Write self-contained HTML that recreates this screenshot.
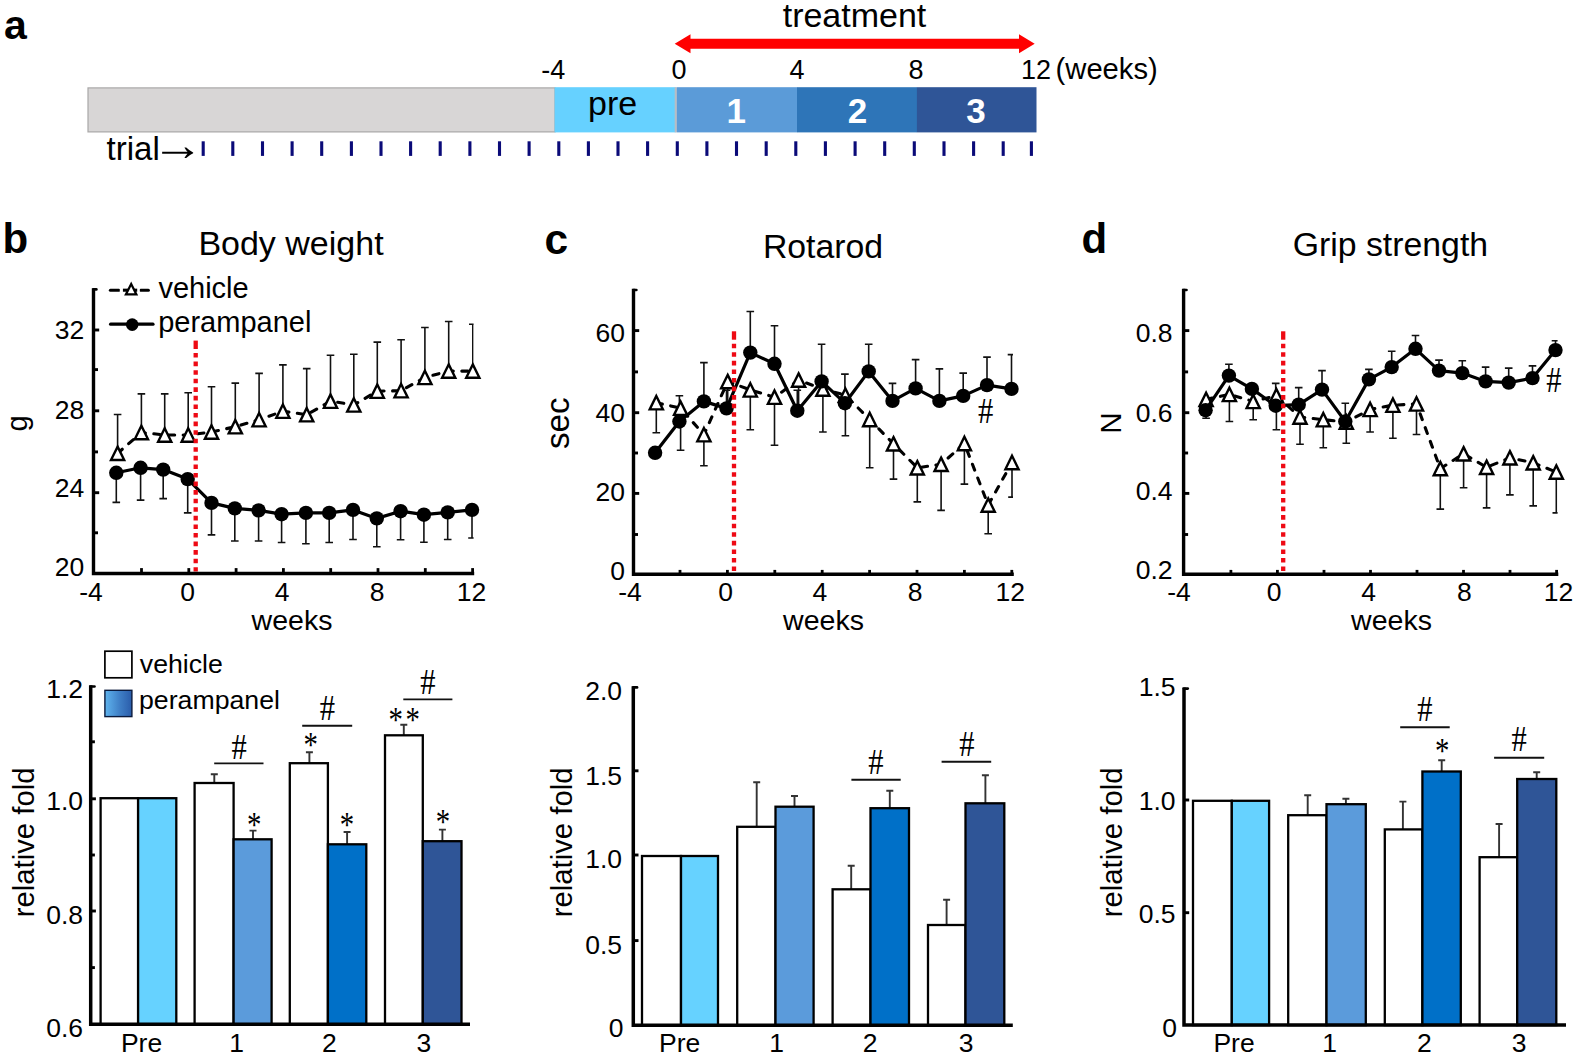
<!DOCTYPE html>
<html lang="en">
<head>
<meta charset="utf-8">
<title>Figure: perampanel treatment - body weight, rotarod, grip strength</title>
<style>
html,body{margin:0;padding:0;background:#fff;}
body{width:1575px;height:1058px;overflow:hidden;}
svg{display:block;}
.ss{font-family:"Liberation Sans", sans-serif;}
.sf{font-family:"Liberation Serif", serif;}
</style>
</head>
<body>
<svg width="1575" height="1058" viewBox="0 0 1575 1058">
<defs>
<linearGradient id="lg" x1="0" y1="0" x2="1" y2="0">
<stop offset="0" stop-color="#5fb4ee"/><stop offset="0.55" stop-color="#3f7fc6"/><stop offset="1" stop-color="#2a5caa"/>
</linearGradient>
<clipPath id="cb"><rect x="90" y="280" width="383.6" height="300"/></clipPath>
<clipPath id="cc"><rect x="630" y="280" width="383" height="300"/></clipPath>
<clipPath id="cd"><rect x="1180" y="280" width="377.6" height="300"/></clipPath>
</defs>
<rect width="1575" height="1058" fill="#fff"/>
<text class="ss" x="4.0" y="38.9" font-size="41" text-anchor="start" font-weight="bold">a</text>
<text class="ss" x="854.5" y="27.0" font-size="34" text-anchor="middle">treatment</text>
<path d="M674.7 43.8 L690.5 34.3 L690.5 38.8 L1019 38.8 L1019 34.3 L1034.7 43.8 L1019 53.3 L1019 48.8 L690.5 48.8 L690.5 53.3 Z" fill="#ff0000"/>
<text class="ss" x="553.3" y="78.8" font-size="27" text-anchor="middle">-4</text>
<text class="ss" x="679.0" y="78.8" font-size="27" text-anchor="middle">0</text>
<text class="ss" x="797.0" y="78.8" font-size="27" text-anchor="middle">4</text>
<text class="ss" x="916.0" y="78.8" font-size="27" text-anchor="middle">8</text>
<text class="ss" x="1021.0" y="78.8" font-size="27" text-anchor="start">12</text>
<text class="ss" x="1055.6" y="79.0" font-size="29.2" text-anchor="start">(weeks)</text>
<rect x="88" y="87.9" width="467" height="44" fill="#d8d6d6" stroke="#a9a7a7" stroke-width="1.2"/>
<rect x="554.6" y="87.2" width="121" height="45.2" fill="#66d1ff"/>
<rect x="674.7" y="87.2" width="2.2" height="45.2" fill="#b9bcc4"/>
<rect x="676.8" y="87.2" width="120.4" height="45.2" fill="#5b9bd8"/>
<rect x="797" y="87.2" width="120" height="45.2" fill="#2e75b8"/>
<rect x="916.9" y="87.2" width="119.6" height="45.2" fill="#2f5597"/>
<text class="ss" x="612.6" y="114.6" font-size="34" text-anchor="middle">pre</text>
<text class="ss" x="736.3" y="122.6" font-size="35" text-anchor="middle" font-weight="bold" fill="#fff">1</text>
<text class="ss" x="857.6" y="122.6" font-size="35" text-anchor="middle" font-weight="bold" fill="#fff">2</text>
<text class="ss" x="975.9" y="122.6" font-size="35" text-anchor="middle" font-weight="bold" fill="#fff">3</text>
<text class="ss" x="106.6" y="160.1" font-size="33" text-anchor="start">trial</text>
<text class="sf" transform="translate(151.4 160.3) scale(1.64 1.4)" font-size="32" text-anchor="start">→</text>
<line x1="203.2" y1="141.3" x2="203.2" y2="155.9" stroke="#0a0a78" stroke-width="3.1"/>
<line x1="232.8" y1="141.3" x2="232.8" y2="155.9" stroke="#0a0a78" stroke-width="3.1"/>
<line x1="262.5" y1="141.3" x2="262.5" y2="155.9" stroke="#0a0a78" stroke-width="3.1"/>
<line x1="292.1" y1="141.3" x2="292.1" y2="155.9" stroke="#0a0a78" stroke-width="3.1"/>
<line x1="321.7" y1="141.3" x2="321.7" y2="155.9" stroke="#0a0a78" stroke-width="3.1"/>
<line x1="351.4" y1="141.3" x2="351.4" y2="155.9" stroke="#0a0a78" stroke-width="3.1"/>
<line x1="381.0" y1="141.3" x2="381.0" y2="155.9" stroke="#0a0a78" stroke-width="3.1"/>
<line x1="410.6" y1="141.3" x2="410.6" y2="155.9" stroke="#0a0a78" stroke-width="3.1"/>
<line x1="440.2" y1="141.3" x2="440.2" y2="155.9" stroke="#0a0a78" stroke-width="3.1"/>
<line x1="469.9" y1="141.3" x2="469.9" y2="155.9" stroke="#0a0a78" stroke-width="3.1"/>
<line x1="499.5" y1="141.3" x2="499.5" y2="155.9" stroke="#0a0a78" stroke-width="3.1"/>
<line x1="529.1" y1="141.3" x2="529.1" y2="155.9" stroke="#0a0a78" stroke-width="3.1"/>
<line x1="558.8" y1="141.3" x2="558.8" y2="155.9" stroke="#0a0a78" stroke-width="3.1"/>
<line x1="588.4" y1="141.3" x2="588.4" y2="155.9" stroke="#0a0a78" stroke-width="3.1"/>
<line x1="618.0" y1="141.3" x2="618.0" y2="155.9" stroke="#0a0a78" stroke-width="3.1"/>
<line x1="647.6" y1="141.3" x2="647.6" y2="155.9" stroke="#0a0a78" stroke-width="3.1"/>
<line x1="677.3" y1="141.3" x2="677.3" y2="155.9" stroke="#0a0a78" stroke-width="3.1"/>
<line x1="706.9" y1="141.3" x2="706.9" y2="155.9" stroke="#0a0a78" stroke-width="3.1"/>
<line x1="736.5" y1="141.3" x2="736.5" y2="155.9" stroke="#0a0a78" stroke-width="3.1"/>
<line x1="766.2" y1="141.3" x2="766.2" y2="155.9" stroke="#0a0a78" stroke-width="3.1"/>
<line x1="795.8" y1="141.3" x2="795.8" y2="155.9" stroke="#0a0a78" stroke-width="3.1"/>
<line x1="825.4" y1="141.3" x2="825.4" y2="155.9" stroke="#0a0a78" stroke-width="3.1"/>
<line x1="855.1" y1="141.3" x2="855.1" y2="155.9" stroke="#0a0a78" stroke-width="3.1"/>
<line x1="884.7" y1="141.3" x2="884.7" y2="155.9" stroke="#0a0a78" stroke-width="3.1"/>
<line x1="914.3" y1="141.3" x2="914.3" y2="155.9" stroke="#0a0a78" stroke-width="3.1"/>
<line x1="944.0" y1="141.3" x2="944.0" y2="155.9" stroke="#0a0a78" stroke-width="3.1"/>
<line x1="973.6" y1="141.3" x2="973.6" y2="155.9" stroke="#0a0a78" stroke-width="3.1"/>
<line x1="1003.2" y1="141.3" x2="1003.2" y2="155.9" stroke="#0a0a78" stroke-width="3.1"/>
<line x1="1031.4" y1="141.3" x2="1031.4" y2="155.9" stroke="#0a0a78" stroke-width="3.1"/>
<text class="ss" x="2.6" y="252.5" font-size="42" text-anchor="start" font-weight="bold">b</text>
<text class="ss" x="291.0" y="255.2" font-size="34" text-anchor="middle">Body weight</text>
<g clip-path="url(#cb)">
<path d="M117.6 453.3 V414.5 M113.8 414.5 H121.4" fill="none" stroke="#111" stroke-width="1.6"/>
<path d="M141.4 432.5 V393.9 M137.6 393.9 H145.2" fill="none" stroke="#111" stroke-width="1.6"/>
<path d="M164.7 435.0 V393.9 M160.9 393.9 H168.5" fill="none" stroke="#111" stroke-width="1.6"/>
<path d="M188.2 435.0 V392.7 M184.4 392.7 H192.0" fill="none" stroke="#111" stroke-width="1.6"/>
<path d="M211.5 432.0 V386.7 M207.7 386.7 H215.3" fill="none" stroke="#111" stroke-width="1.6"/>
<path d="M235.3 426.7 V383.1 M231.5 383.1 H239.1" fill="none" stroke="#111" stroke-width="1.6"/>
<path d="M259.1 419.7 V373.4 M255.3 373.4 H262.9" fill="none" stroke="#111" stroke-width="1.6"/>
<path d="M282.9 411.2 V364.9 M279.1 364.9 H286.7" fill="none" stroke="#111" stroke-width="1.6"/>
<path d="M306.7 414.7 V368.6 M302.9 368.6 H310.5" fill="none" stroke="#111" stroke-width="1.6"/>
<path d="M330.5 401.2 V355.3 M326.7 355.3 H334.3" fill="none" stroke="#111" stroke-width="1.6"/>
<path d="M353.8 404.9 V354.3 M350.0 354.3 H357.6" fill="none" stroke="#111" stroke-width="1.6"/>
<path d="M377.3 391.2 V342.1 M373.5 342.1 H381.1" fill="none" stroke="#111" stroke-width="1.6"/>
<path d="M401.1 390.7 V339.8 M397.3 339.8 H404.9" fill="none" stroke="#111" stroke-width="1.6"/>
<path d="M424.9 377.4 V327.5 M421.1 327.5 H428.7" fill="none" stroke="#111" stroke-width="1.6"/>
<path d="M448.7 371.1 V321.5 M444.9 321.5 H452.5" fill="none" stroke="#111" stroke-width="1.6"/>
<path d="M472.8 371.1 V324.3 M469.0 324.3 H476.6" fill="none" stroke="#111" stroke-width="1.6"/>
<path d="M116.3 472.8 V502.4 M112.5 502.4 H120.1" fill="none" stroke="#111" stroke-width="1.6"/>
<path d="M140.6 467.8 V500.1 M136.8 500.1 H144.4" fill="none" stroke="#111" stroke-width="1.6"/>
<path d="M163.2 469.6 V498.6 M159.4 498.6 H167.0" fill="none" stroke="#111" stroke-width="1.6"/>
<path d="M187.7 479.1 V512.9 M183.9 512.9 H191.5" fill="none" stroke="#111" stroke-width="1.6"/>
<path d="M211.5 502.9 V534.9 M207.7 534.9 H215.3" fill="none" stroke="#111" stroke-width="1.6"/>
<path d="M234.8 508.4 V541.0 M231.0 541.0 H238.6" fill="none" stroke="#111" stroke-width="1.6"/>
<path d="M258.6 510.4 V541.0 M254.8 541.0 H262.4" fill="none" stroke="#111" stroke-width="1.6"/>
<path d="M281.6 514.2 V542.5 M277.8 542.5 H285.4" fill="none" stroke="#111" stroke-width="1.6"/>
<path d="M305.9 512.9 V543.7 M302.1 543.7 H309.7" fill="none" stroke="#111" stroke-width="1.6"/>
<path d="M329.2 512.9 V542.5 M325.4 542.5 H333.0" fill="none" stroke="#111" stroke-width="1.6"/>
<path d="M353.0 509.9 V539.5 M349.2 539.5 H356.8" fill="none" stroke="#111" stroke-width="1.6"/>
<path d="M376.8 518.4 V546.7 M373.0 546.7 H380.6" fill="none" stroke="#111" stroke-width="1.6"/>
<path d="M400.6 511.2 V539.7 M396.8 539.7 H404.4" fill="none" stroke="#111" stroke-width="1.6"/>
<path d="M423.9 514.7 V542.2 M420.1 542.2 H427.7" fill="none" stroke="#111" stroke-width="1.6"/>
<path d="M447.7 512.4 V539.5 M443.9 539.5 H451.5" fill="none" stroke="#111" stroke-width="1.6"/>
<path d="M472.0 509.9 V538.0 M468.2 538.0 H475.8" fill="none" stroke="#111" stroke-width="1.6"/>
</g>
<polyline points="117.6,453.3 141.4,432.5 164.7,435.0 188.2,435.0 211.5,432.0 235.3,426.7 259.1,419.7 282.9,411.2 306.7,414.7 330.5,401.2 353.8,404.9 377.3,391.2 401.1,390.7 424.9,377.4 448.7,371.1 472.8,371.1" fill="none" stroke="#000" stroke-width="3.1" stroke-dasharray="6.2 8.5" stroke-linecap="round" stroke-linejoin="round"/>
<path d="M117.6 446.6 L124.2 460.0 L111.0 460.0 Z" fill="#fff" stroke="#000" stroke-width="2.4" stroke-linejoin="miter"/>
<path d="M141.4 425.8 L148.0 439.2 L134.8 439.2 Z" fill="#fff" stroke="#000" stroke-width="2.4" stroke-linejoin="miter"/>
<path d="M164.7 428.3 L171.3 441.7 L158.1 441.7 Z" fill="#fff" stroke="#000" stroke-width="2.4" stroke-linejoin="miter"/>
<path d="M188.2 428.3 L194.8 441.7 L181.6 441.7 Z" fill="#fff" stroke="#000" stroke-width="2.4" stroke-linejoin="miter"/>
<path d="M211.5 425.3 L218.1 438.7 L204.9 438.7 Z" fill="#fff" stroke="#000" stroke-width="2.4" stroke-linejoin="miter"/>
<path d="M235.3 420.0 L241.9 433.4 L228.7 433.4 Z" fill="#fff" stroke="#000" stroke-width="2.4" stroke-linejoin="miter"/>
<path d="M259.1 413.0 L265.7 426.4 L252.5 426.4 Z" fill="#fff" stroke="#000" stroke-width="2.4" stroke-linejoin="miter"/>
<path d="M282.9 404.5 L289.5 417.9 L276.3 417.9 Z" fill="#fff" stroke="#000" stroke-width="2.4" stroke-linejoin="miter"/>
<path d="M306.7 408.0 L313.3 421.4 L300.1 421.4 Z" fill="#fff" stroke="#000" stroke-width="2.4" stroke-linejoin="miter"/>
<path d="M330.5 394.5 L337.1 407.9 L323.9 407.9 Z" fill="#fff" stroke="#000" stroke-width="2.4" stroke-linejoin="miter"/>
<path d="M353.8 398.2 L360.4 411.6 L347.2 411.6 Z" fill="#fff" stroke="#000" stroke-width="2.4" stroke-linejoin="miter"/>
<path d="M377.3 384.5 L383.9 397.9 L370.7 397.9 Z" fill="#fff" stroke="#000" stroke-width="2.4" stroke-linejoin="miter"/>
<path d="M401.1 384.0 L407.7 397.4 L394.5 397.4 Z" fill="#fff" stroke="#000" stroke-width="2.4" stroke-linejoin="miter"/>
<path d="M424.9 370.7 L431.5 384.1 L418.3 384.1 Z" fill="#fff" stroke="#000" stroke-width="2.4" stroke-linejoin="miter"/>
<path d="M448.7 364.4 L455.3 377.8 L442.1 377.8 Z" fill="#fff" stroke="#000" stroke-width="2.4" stroke-linejoin="miter"/>
<path d="M472.8 364.4 L479.4 377.8 L466.2 377.8 Z" fill="#fff" stroke="#000" stroke-width="2.4" stroke-linejoin="miter"/>
<polyline points="116.3,472.8 140.6,467.8 163.2,469.6 187.7,479.1 211.5,502.9 234.8,508.4 258.6,510.4 281.6,514.2 305.9,512.9 329.2,512.9 353.0,509.9 376.8,518.4 400.6,511.2 423.9,514.7 447.7,512.4 472.0,509.9" fill="none" stroke="#000" stroke-width="3.2" stroke-linejoin="round"/>
<circle cx="116.3" cy="472.8" r="7.2" fill="#000"/>
<circle cx="140.6" cy="467.8" r="7.2" fill="#000"/>
<circle cx="163.2" cy="469.6" r="7.2" fill="#000"/>
<circle cx="187.7" cy="479.1" r="7.2" fill="#000"/>
<circle cx="211.5" cy="502.9" r="7.2" fill="#000"/>
<circle cx="234.8" cy="508.4" r="7.2" fill="#000"/>
<circle cx="258.6" cy="510.4" r="7.2" fill="#000"/>
<circle cx="281.6" cy="514.2" r="7.2" fill="#000"/>
<circle cx="305.9" cy="512.9" r="7.2" fill="#000"/>
<circle cx="329.2" cy="512.9" r="7.2" fill="#000"/>
<circle cx="353.0" cy="509.9" r="7.2" fill="#000"/>
<circle cx="376.8" cy="518.4" r="7.2" fill="#000"/>
<circle cx="400.6" cy="511.2" r="7.2" fill="#000"/>
<circle cx="423.9" cy="514.7" r="7.2" fill="#000"/>
<circle cx="447.7" cy="512.4" r="7.2" fill="#000"/>
<circle cx="472.0" cy="509.9" r="7.2" fill="#000"/>
<line x1="195.7" y1="340.6" x2="195.7" y2="349.0" stroke="#ee0a14" stroke-width="4.3"/>
<line x1="195.7" y1="353.0" x2="195.7" y2="571.6" stroke="#ee0a14" stroke-width="4.3" stroke-dasharray="4.6 3.97"/>
<path d="M93.5 288.2 V573.5 H474.2" fill="none" stroke="#000" stroke-width="3.4" stroke-linejoin="miter"/>
<path d="M93.5 289.4 H96.4" fill="none" stroke="#000" stroke-width="2.6" stroke-linecap="round"/>
<line x1="93.5" y1="532.8" x2="98.0" y2="532.8" stroke="#000" stroke-width="2.9"/>
<line x1="93.5" y1="492.7" x2="99.2" y2="492.7" stroke="#000" stroke-width="2.9"/>
<line x1="93.5" y1="451.9" x2="98.0" y2="451.9" stroke="#000" stroke-width="2.9"/>
<line x1="93.5" y1="410.8" x2="99.2" y2="410.8" stroke="#000" stroke-width="2.9"/>
<line x1="93.5" y1="369.6" x2="98.0" y2="369.6" stroke="#000" stroke-width="2.9"/>
<line x1="93.5" y1="330.0" x2="99.2" y2="330.0" stroke="#000" stroke-width="2.9"/>
<line x1="141.5" y1="573.5" x2="141.5" y2="568.1" stroke="#000" stroke-width="2.8"/>
<line x1="188.8" y1="573.5" x2="188.8" y2="568.1" stroke="#000" stroke-width="2.8"/>
<line x1="236.1" y1="573.5" x2="236.1" y2="568.1" stroke="#000" stroke-width="2.8"/>
<line x1="283.4" y1="573.5" x2="283.4" y2="568.1" stroke="#000" stroke-width="2.8"/>
<line x1="330.7" y1="573.5" x2="330.7" y2="568.1" stroke="#000" stroke-width="2.8"/>
<line x1="378.0" y1="573.5" x2="378.0" y2="568.1" stroke="#000" stroke-width="2.8"/>
<line x1="425.3" y1="573.5" x2="425.3" y2="568.1" stroke="#000" stroke-width="2.8"/>
<line x1="472.6" y1="573.5" x2="472.6" y2="568.1" stroke="#000" stroke-width="2.8"/>
<text class="ss" x="84.2" y="339.4" font-size="26.5" text-anchor="end">32</text>
<text class="ss" x="84.2" y="418.6" font-size="26.5" text-anchor="end">28</text>
<text class="ss" x="84.2" y="497.1" font-size="26.5" text-anchor="end">24</text>
<text class="ss" x="84.2" y="575.9" font-size="26.5" text-anchor="end">20</text>
<text class="ss" x="27.0" y="423.4" font-size="29" text-anchor="middle" transform="rotate(-90 27.0 423.4)">g</text>
<text class="ss" x="91.0" y="601.4" font-size="26.5" text-anchor="middle">-4</text>
<text class="ss" x="187.5" y="601.4" font-size="26.5" text-anchor="middle">0</text>
<text class="ss" x="282.0" y="601.4" font-size="26.5" text-anchor="middle">4</text>
<text class="ss" x="377.0" y="601.4" font-size="26.5" text-anchor="middle">8</text>
<text class="ss" x="471.4" y="601.4" font-size="26.5" text-anchor="middle">12</text>
<text class="ss" x="292.0" y="630.2" font-size="28.5" text-anchor="middle">weeks</text>
<line x1="110.4" y1="290.2" x2="119.0" y2="290.2" stroke="#000" stroke-width="3.1" stroke-linecap="round"/>
<line x1="122.6" y1="290.2" x2="139.0" y2="290.2" stroke="#000" stroke-width="3.1"/>
<line x1="140.6" y1="290.2" x2="148.4" y2="290.2" stroke="#000" stroke-width="3.1" stroke-linecap="round"/>
<rect x="119.8" y="285" width="3" height="10" fill="#fff"/><rect x="137.2" y="285" width="2.6" height="10" fill="#fff"/>
<path d="M131.2 283.9 L136.4 294.4 L125.9 294.4 Z" fill="#fff" stroke="#000" stroke-width="2.2" stroke-linejoin="miter"/>
<line x1="110.6" y1="324.2" x2="153.0" y2="324.2" stroke="#000" stroke-width="3.2" stroke-linecap="round"/>
<circle cx="132.2" cy="324.6" r="6.3" fill="#000"/>
<text class="ss" x="158.4" y="298.1" font-size="29" text-anchor="start">vehicle</text>
<text class="ss" x="158.2" y="332.4" font-size="29" text-anchor="start">perampanel</text>
<text class="ss" x="544.6" y="253.8" font-size="42.5" text-anchor="start" font-weight="bold">c</text>
<text class="ss" x="823.0" y="258.0" font-size="33.8" text-anchor="middle">Rotarod</text>
<g clip-path="url(#cc)">
<path d="M656.3 402.7 V432.7 M652.5 432.7 H660.1" fill="none" stroke="#111" stroke-width="1.6"/>
<path d="M680.6 408.2 V450.3 M676.8 450.3 H684.4" fill="none" stroke="#111" stroke-width="1.6"/>
<path d="M703.9 434.7 V465.8 M700.1 465.8 H707.7" fill="none" stroke="#111" stroke-width="1.6"/>
<path d="M727.7 381.6 V410.2 M723.9 410.2 H731.5" fill="none" stroke="#111" stroke-width="1.6"/>
<path d="M750.3 389.9 V429.7 M746.5 429.7 H754.1" fill="none" stroke="#111" stroke-width="1.6"/>
<path d="M774.5 397.2 V445.3 M770.7 445.3 H778.3" fill="none" stroke="#111" stroke-width="1.6"/>
<path d="M798.6 380.1 V413.9 M794.8 413.9 H802.4" fill="none" stroke="#111" stroke-width="1.6"/>
<path d="M822.9 389.1 V432.0 M819.1 432.0 H826.7" fill="none" stroke="#111" stroke-width="1.6"/>
<path d="M845.4 395.2 V435.7 M841.6 435.7 H849.2" fill="none" stroke="#111" stroke-width="1.6"/>
<path d="M869.7 419.5 V467.8 M865.9 467.8 H873.5" fill="none" stroke="#111" stroke-width="1.6"/>
<path d="M893.5 443.8 V479.1 M889.7 479.1 H897.3" fill="none" stroke="#111" stroke-width="1.6"/>
<path d="M917.3 467.8 V501.9 M913.5 501.9 H921.1" fill="none" stroke="#111" stroke-width="1.6"/>
<path d="M941.1 464.3 V510.4 M937.3 510.4 H944.9" fill="none" stroke="#111" stroke-width="1.6"/>
<path d="M964.4 443.5 V484.1 M960.6 484.1 H968.2" fill="none" stroke="#111" stroke-width="1.6"/>
<path d="M988.2 505.1 V533.7 M984.4 533.7 H992.0" fill="none" stroke="#111" stroke-width="1.6"/>
<path d="M1012.0 462.5 V497.1 M1008.2 497.1 H1015.8" fill="none" stroke="#111" stroke-width="1.6"/>
<path d="M679.4 421.5 V395.7 M675.6 395.7 H683.2" fill="none" stroke="#111" stroke-width="1.6"/>
<path d="M703.9 401.4 V362.6 M700.1 362.6 H707.7" fill="none" stroke="#111" stroke-width="1.6"/>
<path d="M726.5 408.4 V390.2 M722.7 390.2 H730.3" fill="none" stroke="#111" stroke-width="1.6"/>
<path d="M750.3 352.6 V311.5 M746.5 311.5 H754.1" fill="none" stroke="#111" stroke-width="1.6"/>
<path d="M774.5 363.8 V325.8 M770.7 325.8 H778.3" fill="none" stroke="#111" stroke-width="1.6"/>
<path d="M797.3 410.7 V390.2 M793.5 390.2 H801.1" fill="none" stroke="#111" stroke-width="1.6"/>
<path d="M821.6 381.4 V344.3 M817.8 344.3 H825.4" fill="none" stroke="#111" stroke-width="1.6"/>
<path d="M844.9 403.2 V374.1 M841.1 374.1 H848.7" fill="none" stroke="#111" stroke-width="1.6"/>
<path d="M868.7 371.4 V344.3 M864.9 344.3 H872.5" fill="none" stroke="#111" stroke-width="1.6"/>
<path d="M892.5 400.9 V383.4 M888.7 383.4 H896.3" fill="none" stroke="#111" stroke-width="1.6"/>
<path d="M915.6 388.4 V359.6 M911.8 359.6 H919.4" fill="none" stroke="#111" stroke-width="1.6"/>
<path d="M939.4 400.9 V368.9 M935.6 368.9 H943.2" fill="none" stroke="#111" stroke-width="1.6"/>
<path d="M963.2 395.9 V373.1 M959.4 373.1 H967.0" fill="none" stroke="#111" stroke-width="1.6"/>
<path d="M987.0 385.1 V357.1 M983.2 357.1 H990.8" fill="none" stroke="#111" stroke-width="1.6"/>
<path d="M1011.5 388.9 V354.6 M1007.7 354.6 H1015.3" fill="none" stroke="#111" stroke-width="1.6"/>
</g>
<polyline points="656.3,402.7 680.6,408.2 703.9,434.7 727.7,381.6 750.3,389.9 774.5,397.2 798.6,380.1 822.9,389.1 845.4,395.2 869.7,419.5 893.5,443.8 917.3,467.8 941.1,464.3 964.4,443.5 988.2,505.1 1012.0,462.5" fill="none" stroke="#000" stroke-width="3.1" stroke-dasharray="6.2 8.5" stroke-linecap="round" stroke-linejoin="round"/>
<path d="M656.3 396.0 L662.9 409.4 L649.7 409.4 Z" fill="#fff" stroke="#000" stroke-width="2.4" stroke-linejoin="miter"/>
<path d="M680.6 401.5 L687.2 414.9 L674.0 414.9 Z" fill="#fff" stroke="#000" stroke-width="2.4" stroke-linejoin="miter"/>
<path d="M703.9 428.0 L710.5 441.4 L697.3 441.4 Z" fill="#fff" stroke="#000" stroke-width="2.4" stroke-linejoin="miter"/>
<path d="M727.7 374.9 L734.3 388.3 L721.1 388.3 Z" fill="#fff" stroke="#000" stroke-width="2.4" stroke-linejoin="miter"/>
<path d="M750.3 383.2 L756.9 396.6 L743.7 396.6 Z" fill="#fff" stroke="#000" stroke-width="2.4" stroke-linejoin="miter"/>
<path d="M774.5 390.5 L781.1 403.9 L767.9 403.9 Z" fill="#fff" stroke="#000" stroke-width="2.4" stroke-linejoin="miter"/>
<path d="M798.6 373.4 L805.2 386.8 L792.0 386.8 Z" fill="#fff" stroke="#000" stroke-width="2.4" stroke-linejoin="miter"/>
<path d="M822.9 382.4 L829.5 395.8 L816.3 395.8 Z" fill="#fff" stroke="#000" stroke-width="2.4" stroke-linejoin="miter"/>
<path d="M845.4 388.5 L852.0 401.9 L838.8 401.9 Z" fill="#fff" stroke="#000" stroke-width="2.4" stroke-linejoin="miter"/>
<path d="M869.7 412.8 L876.3 426.2 L863.1 426.2 Z" fill="#fff" stroke="#000" stroke-width="2.4" stroke-linejoin="miter"/>
<path d="M893.5 437.1 L900.1 450.5 L886.9 450.5 Z" fill="#fff" stroke="#000" stroke-width="2.4" stroke-linejoin="miter"/>
<path d="M917.3 461.1 L923.9 474.5 L910.7 474.5 Z" fill="#fff" stroke="#000" stroke-width="2.4" stroke-linejoin="miter"/>
<path d="M941.1 457.6 L947.7 471.0 L934.5 471.0 Z" fill="#fff" stroke="#000" stroke-width="2.4" stroke-linejoin="miter"/>
<path d="M964.4 436.8 L971.0 450.2 L957.8 450.2 Z" fill="#fff" stroke="#000" stroke-width="2.4" stroke-linejoin="miter"/>
<path d="M988.2 498.4 L994.8 511.8 L981.6 511.8 Z" fill="#fff" stroke="#000" stroke-width="2.4" stroke-linejoin="miter"/>
<path d="M1012.0 455.8 L1018.6 469.2 L1005.4 469.2 Z" fill="#fff" stroke="#000" stroke-width="2.4" stroke-linejoin="miter"/>
<polyline points="655.1,452.8 679.4,421.5 703.9,401.4 726.5,408.4 750.3,352.6 774.5,363.8 797.3,410.7 821.6,381.4 844.9,403.2 868.7,371.4 892.5,400.9 915.6,388.4 939.4,400.9 963.2,395.9 987.0,385.1 1011.5,388.9" fill="none" stroke="#000" stroke-width="3.2" stroke-linejoin="round"/>
<circle cx="655.1" cy="452.8" r="7.2" fill="#000"/>
<circle cx="679.4" cy="421.5" r="7.2" fill="#000"/>
<circle cx="703.9" cy="401.4" r="7.2" fill="#000"/>
<circle cx="726.5" cy="408.4" r="7.2" fill="#000"/>
<circle cx="750.3" cy="352.6" r="7.2" fill="#000"/>
<circle cx="774.5" cy="363.8" r="7.2" fill="#000"/>
<circle cx="797.3" cy="410.7" r="7.2" fill="#000"/>
<circle cx="821.6" cy="381.4" r="7.2" fill="#000"/>
<circle cx="844.9" cy="403.2" r="7.2" fill="#000"/>
<circle cx="868.7" cy="371.4" r="7.2" fill="#000"/>
<circle cx="892.5" cy="400.9" r="7.2" fill="#000"/>
<circle cx="915.6" cy="388.4" r="7.2" fill="#000"/>
<circle cx="939.4" cy="400.9" r="7.2" fill="#000"/>
<circle cx="963.2" cy="395.9" r="7.2" fill="#000"/>
<circle cx="987.0" cy="385.1" r="7.2" fill="#000"/>
<circle cx="1011.5" cy="388.9" r="7.2" fill="#000"/>
<line x1="734.0" y1="331.3" x2="734.0" y2="339.7" stroke="#ee0a14" stroke-width="4.3"/>
<line x1="734.0" y1="343.7" x2="734.0" y2="572.6" stroke="#ee0a14" stroke-width="4.3" stroke-dasharray="4.6 3.97"/>
<path d="M633.5 288.8 V574.3 H1013.8" fill="none" stroke="#000" stroke-width="3.4" stroke-linejoin="miter"/>
<path d="M633.5 290.0 H636.4" fill="none" stroke="#000" stroke-width="2.6" stroke-linecap="round"/>
<line x1="633.5" y1="534.5" x2="638.0" y2="534.5" stroke="#000" stroke-width="2.9"/>
<line x1="633.5" y1="493.4" x2="639.2" y2="493.4" stroke="#000" stroke-width="2.9"/>
<line x1="633.5" y1="453.0" x2="638.0" y2="453.0" stroke="#000" stroke-width="2.9"/>
<line x1="633.5" y1="412.7" x2="639.2" y2="412.7" stroke="#000" stroke-width="2.9"/>
<line x1="633.5" y1="371.9" x2="638.0" y2="371.9" stroke="#000" stroke-width="2.9"/>
<line x1="633.5" y1="330.6" x2="639.2" y2="330.6" stroke="#000" stroke-width="2.9"/>
<line x1="680.0" y1="574.3" x2="680.0" y2="569.9" stroke="#000" stroke-width="2.8"/>
<line x1="727.4" y1="574.3" x2="727.4" y2="569.9" stroke="#000" stroke-width="2.8"/>
<line x1="774.8" y1="574.3" x2="774.8" y2="569.9" stroke="#000" stroke-width="2.8"/>
<line x1="822.2" y1="574.3" x2="822.2" y2="569.9" stroke="#000" stroke-width="2.8"/>
<line x1="869.6" y1="574.3" x2="869.6" y2="569.9" stroke="#000" stroke-width="2.8"/>
<line x1="917.0" y1="574.3" x2="917.0" y2="569.9" stroke="#000" stroke-width="2.8"/>
<line x1="964.4" y1="574.3" x2="964.4" y2="569.9" stroke="#000" stroke-width="2.8"/>
<line x1="1011.8" y1="574.3" x2="1011.8" y2="569.9" stroke="#000" stroke-width="2.8"/>
<text class="ss" x="625.1" y="342.2" font-size="26.5" text-anchor="end">60</text>
<text class="ss" x="625.1" y="421.6" font-size="26.5" text-anchor="end">40</text>
<text class="ss" x="625.1" y="500.7" font-size="26.5" text-anchor="end">20</text>
<text class="ss" x="625.1" y="580.3" font-size="26.5" text-anchor="end">0</text>
<text class="ss" x="569.2" y="423.2" font-size="33.2" text-anchor="middle" transform="rotate(-90 569.2 423.2)">sec</text>
<text class="ss" x="630.0" y="601.4" font-size="26.5" text-anchor="middle">-4</text>
<text class="ss" x="725.6" y="601.4" font-size="26.5" text-anchor="middle">0</text>
<text class="ss" x="819.8" y="601.4" font-size="26.5" text-anchor="middle">4</text>
<text class="ss" x="915.0" y="601.4" font-size="26.5" text-anchor="middle">8</text>
<text class="ss" x="1010.3" y="601.4" font-size="26.5" text-anchor="middle">12</text>
<text class="ss" x="823.5" y="630.2" font-size="28.5" text-anchor="middle">weeks</text>
<text class="sf" transform="translate(985.7 423.4) scale(0.9 1.07)" font-size="34" text-anchor="middle">#</text>
<text class="ss" x="1081.6" y="252.8" font-size="42" text-anchor="start" font-weight="bold">d</text>
<text class="ss" x="1390.4" y="255.8" font-size="33.8" text-anchor="middle">Grip strength</text>
<g clip-path="url(#cd)">
<path d="M1206.1 399.4 V418.2 M1202.3 418.2 H1209.9" fill="none" stroke="#111" stroke-width="1.6"/>
<path d="M1229.4 394.4 V421.5 M1225.6 421.5 H1233.2" fill="none" stroke="#111" stroke-width="1.6"/>
<path d="M1253.2 401.4 V419.7 M1249.4 419.7 H1257.0" fill="none" stroke="#111" stroke-width="1.6"/>
<path d="M1276.4 395.7 V429.7 M1272.6 429.7 H1280.2" fill="none" stroke="#111" stroke-width="1.6"/>
<path d="M1300.0 417.0 V444.3 M1296.2 444.3 H1303.8" fill="none" stroke="#111" stroke-width="1.6"/>
<path d="M1323.3 419.7 V447.8 M1319.5 447.8 H1327.1" fill="none" stroke="#111" stroke-width="1.6"/>
<path d="M1346.3 422.0 V443.3 M1342.5 443.3 H1350.1" fill="none" stroke="#111" stroke-width="1.6"/>
<path d="M1370.1 409.4 V432.0 M1366.3 432.0 H1373.9" fill="none" stroke="#111" stroke-width="1.6"/>
<path d="M1392.9 405.2 V438.2 M1389.1 438.2 H1396.7" fill="none" stroke="#111" stroke-width="1.6"/>
<path d="M1416.5 403.9 V434.5 M1412.7 434.5 H1420.3" fill="none" stroke="#111" stroke-width="1.6"/>
<path d="M1440.3 468.6 V509.1 M1436.5 509.1 H1444.1" fill="none" stroke="#111" stroke-width="1.6"/>
<path d="M1463.6 453.8 V487.8 M1459.8 487.8 H1467.4" fill="none" stroke="#111" stroke-width="1.6"/>
<path d="M1486.6 467.3 V507.9 M1482.8 507.9 H1490.4" fill="none" stroke="#111" stroke-width="1.6"/>
<path d="M1509.9 457.8 V494.9 M1506.1 494.9 H1513.7" fill="none" stroke="#111" stroke-width="1.6"/>
<path d="M1533.2 462.8 V505.9 M1529.4 505.9 H1537.0" fill="none" stroke="#111" stroke-width="1.6"/>
<path d="M1556.3 472.1 V512.9 M1552.5 512.9 H1560.1" fill="none" stroke="#111" stroke-width="1.6"/>
<path d="M1228.9 375.6 V364.3 M1225.1 364.3 H1232.7" fill="none" stroke="#111" stroke-width="1.6"/>
<path d="M1275.7 405.7 V383.4 M1271.9 383.4 H1279.5" fill="none" stroke="#111" stroke-width="1.6"/>
<path d="M1298.7 404.7 V387.6 M1294.9 387.6 H1302.5" fill="none" stroke="#111" stroke-width="1.6"/>
<path d="M1322.0 389.6 V370.6 M1318.2 370.6 H1325.8" fill="none" stroke="#111" stroke-width="1.6"/>
<path d="M1345.3 421.5 V403.2 M1341.5 403.2 H1349.1" fill="none" stroke="#111" stroke-width="1.6"/>
<path d="M1368.9 379.4 V369.4 M1365.1 369.4 H1372.7" fill="none" stroke="#111" stroke-width="1.6"/>
<path d="M1391.7 367.1 V351.3 M1387.9 351.3 H1395.5" fill="none" stroke="#111" stroke-width="1.6"/>
<path d="M1415.5 348.8 V335.5 M1411.7 335.5 H1419.3" fill="none" stroke="#111" stroke-width="1.6"/>
<path d="M1439.0 370.6 V360.1 M1435.2 360.1 H1442.8" fill="none" stroke="#111" stroke-width="1.6"/>
<path d="M1462.3 373.1 V360.8 M1458.5 360.8 H1466.1" fill="none" stroke="#111" stroke-width="1.6"/>
<path d="M1485.6 381.4 V367.1 M1481.8 367.1 H1489.4" fill="none" stroke="#111" stroke-width="1.6"/>
<path d="M1508.7 382.6 V368.1 M1504.9 368.1 H1512.5" fill="none" stroke="#111" stroke-width="1.6"/>
<path d="M1532.5 378.1 V365.9 M1528.7 365.9 H1536.3" fill="none" stroke="#111" stroke-width="1.6"/>
<path d="M1555.5 350.1 V340.8 M1551.7 340.8 H1559.3" fill="none" stroke="#111" stroke-width="1.6"/>
</g>
<polyline points="1206.1,399.4 1229.4,394.4 1253.2,401.4 1276.4,395.7 1300.0,417.0 1323.3,419.7 1346.3,422.0 1370.1,409.4 1392.9,405.2 1416.5,403.9 1440.3,468.6 1463.6,453.8 1486.6,467.3 1509.9,457.8 1533.2,462.8 1556.3,472.1" fill="none" stroke="#000" stroke-width="3.1" stroke-dasharray="6.2 8.5" stroke-linecap="round" stroke-linejoin="round"/>
<path d="M1206.1 392.7 L1212.7 406.1 L1199.5 406.1 Z" fill="#fff" stroke="#000" stroke-width="2.4" stroke-linejoin="miter"/>
<path d="M1229.4 387.7 L1236.0 401.1 L1222.8 401.1 Z" fill="#fff" stroke="#000" stroke-width="2.4" stroke-linejoin="miter"/>
<path d="M1253.2 394.7 L1259.8 408.1 L1246.6 408.1 Z" fill="#fff" stroke="#000" stroke-width="2.4" stroke-linejoin="miter"/>
<path d="M1276.4 389.0 L1283.0 402.4 L1269.8 402.4 Z" fill="#fff" stroke="#000" stroke-width="2.4" stroke-linejoin="miter"/>
<path d="M1300.0 410.3 L1306.6 423.7 L1293.4 423.7 Z" fill="#fff" stroke="#000" stroke-width="2.4" stroke-linejoin="miter"/>
<path d="M1323.3 413.0 L1329.9 426.4 L1316.7 426.4 Z" fill="#fff" stroke="#000" stroke-width="2.4" stroke-linejoin="miter"/>
<path d="M1346.3 415.3 L1352.9 428.7 L1339.7 428.7 Z" fill="#fff" stroke="#000" stroke-width="2.4" stroke-linejoin="miter"/>
<path d="M1370.1 402.7 L1376.7 416.1 L1363.5 416.1 Z" fill="#fff" stroke="#000" stroke-width="2.4" stroke-linejoin="miter"/>
<path d="M1392.9 398.5 L1399.5 411.9 L1386.3 411.9 Z" fill="#fff" stroke="#000" stroke-width="2.4" stroke-linejoin="miter"/>
<path d="M1416.5 397.2 L1423.1 410.6 L1409.9 410.6 Z" fill="#fff" stroke="#000" stroke-width="2.4" stroke-linejoin="miter"/>
<path d="M1440.3 461.9 L1446.9 475.3 L1433.7 475.3 Z" fill="#fff" stroke="#000" stroke-width="2.4" stroke-linejoin="miter"/>
<path d="M1463.6 447.1 L1470.2 460.5 L1457.0 460.5 Z" fill="#fff" stroke="#000" stroke-width="2.4" stroke-linejoin="miter"/>
<path d="M1486.6 460.6 L1493.2 474.0 L1480.0 474.0 Z" fill="#fff" stroke="#000" stroke-width="2.4" stroke-linejoin="miter"/>
<path d="M1509.9 451.1 L1516.5 464.5 L1503.3 464.5 Z" fill="#fff" stroke="#000" stroke-width="2.4" stroke-linejoin="miter"/>
<path d="M1533.2 456.1 L1539.8 469.5 L1526.6 469.5 Z" fill="#fff" stroke="#000" stroke-width="2.4" stroke-linejoin="miter"/>
<path d="M1556.3 465.4 L1562.9 478.8 L1549.7 478.8 Z" fill="#fff" stroke="#000" stroke-width="2.4" stroke-linejoin="miter"/>
<polyline points="1205.6,410.2 1228.9,375.6 1251.9,388.9 1275.7,405.7 1298.7,404.7 1322.0,389.6 1345.3,421.5 1368.9,379.4 1391.7,367.1 1415.5,348.8 1439.0,370.6 1462.3,373.1 1485.6,381.4 1508.7,382.6 1532.5,378.1 1555.5,350.1" fill="none" stroke="#000" stroke-width="3.2" stroke-linejoin="round"/>
<circle cx="1205.6" cy="410.2" r="7.2" fill="#000"/>
<circle cx="1228.9" cy="375.6" r="7.2" fill="#000"/>
<circle cx="1251.9" cy="388.9" r="7.2" fill="#000"/>
<circle cx="1275.7" cy="405.7" r="7.2" fill="#000"/>
<circle cx="1298.7" cy="404.7" r="7.2" fill="#000"/>
<circle cx="1322.0" cy="389.6" r="7.2" fill="#000"/>
<circle cx="1345.3" cy="421.5" r="7.2" fill="#000"/>
<circle cx="1368.9" cy="379.4" r="7.2" fill="#000"/>
<circle cx="1391.7" cy="367.1" r="7.2" fill="#000"/>
<circle cx="1415.5" cy="348.8" r="7.2" fill="#000"/>
<circle cx="1439.0" cy="370.6" r="7.2" fill="#000"/>
<circle cx="1462.3" cy="373.1" r="7.2" fill="#000"/>
<circle cx="1485.6" cy="381.4" r="7.2" fill="#000"/>
<circle cx="1508.7" cy="382.6" r="7.2" fill="#000"/>
<circle cx="1532.5" cy="378.1" r="7.2" fill="#000"/>
<circle cx="1555.5" cy="350.1" r="7.2" fill="#000"/>
<line x1="1283.2" y1="331.3" x2="1283.2" y2="339.7" stroke="#ee0a14" stroke-width="4.3"/>
<line x1="1283.2" y1="343.7" x2="1283.2" y2="572.6" stroke="#ee0a14" stroke-width="4.3" stroke-dasharray="4.6 3.97"/>
<path d="M1183.6 288.8 V574.3 H1558.3" fill="none" stroke="#000" stroke-width="3.4" stroke-linejoin="miter"/>
<path d="M1183.6 290.0 H1186.5" fill="none" stroke="#000" stroke-width="2.6" stroke-linecap="round"/>
<line x1="1183.6" y1="534.5" x2="1188.1" y2="534.5" stroke="#000" stroke-width="2.9"/>
<line x1="1183.6" y1="493.4" x2="1189.3" y2="493.4" stroke="#000" stroke-width="2.9"/>
<line x1="1183.6" y1="453.0" x2="1188.1" y2="453.0" stroke="#000" stroke-width="2.9"/>
<line x1="1183.6" y1="412.7" x2="1189.3" y2="412.7" stroke="#000" stroke-width="2.9"/>
<line x1="1183.6" y1="371.9" x2="1188.1" y2="371.9" stroke="#000" stroke-width="2.9"/>
<line x1="1183.6" y1="330.6" x2="1189.3" y2="330.6" stroke="#000" stroke-width="2.9"/>
<line x1="1230.9" y1="574.3" x2="1230.9" y2="569.9" stroke="#000" stroke-width="2.8"/>
<line x1="1277.4" y1="574.3" x2="1277.4" y2="569.9" stroke="#000" stroke-width="2.8"/>
<line x1="1324.0" y1="574.3" x2="1324.0" y2="569.9" stroke="#000" stroke-width="2.8"/>
<line x1="1370.5" y1="574.3" x2="1370.5" y2="569.9" stroke="#000" stroke-width="2.8"/>
<line x1="1417.0" y1="574.3" x2="1417.0" y2="569.9" stroke="#000" stroke-width="2.8"/>
<line x1="1463.5" y1="574.3" x2="1463.5" y2="569.9" stroke="#000" stroke-width="2.8"/>
<line x1="1510.0" y1="574.3" x2="1510.0" y2="569.9" stroke="#000" stroke-width="2.8"/>
<line x1="1556.6" y1="574.3" x2="1556.6" y2="569.9" stroke="#000" stroke-width="2.8"/>
<text class="ss" x="1172.6" y="342.4" font-size="26.5" text-anchor="end">0.8</text>
<text class="ss" x="1172.6" y="422.0" font-size="26.5" text-anchor="end">0.6</text>
<text class="ss" x="1172.6" y="499.8" font-size="26.5" text-anchor="end">0.4</text>
<text class="ss" x="1172.6" y="578.8" font-size="26.5" text-anchor="end">0.2</text>
<text class="ss" x="1120.8" y="423.0" font-size="29.5" text-anchor="middle" transform="rotate(-90 1120.8 423.0)">N</text>
<text class="ss" x="1179.0" y="601.4" font-size="26.5" text-anchor="middle">-4</text>
<text class="ss" x="1274.1" y="601.4" font-size="26.5" text-anchor="middle">0</text>
<text class="ss" x="1368.6" y="601.4" font-size="26.5" text-anchor="middle">4</text>
<text class="ss" x="1464.4" y="601.4" font-size="26.5" text-anchor="middle">8</text>
<text class="ss" x="1558.4" y="601.4" font-size="26.5" text-anchor="middle">12</text>
<text class="ss" x="1391.5" y="630.2" font-size="28.5" text-anchor="middle">weeks</text>
<text class="sf" transform="translate(1553.8 392.1) scale(0.9 1.07)" font-size="34" text-anchor="middle">#</text>
<rect x="100.6" y="798.2" width="37.5" height="226.1" fill="#fff" stroke="#000" stroke-width="2.3"/>
<rect x="138.1" y="798.2" width="38.2" height="226.1" fill="#66d2ff" stroke="#000" stroke-width="2.3"/>
<path d="M214.3 783.0 V774.2 M210.8 774.2 H217.8" fill="none" stroke="#333" stroke-width="1.9"/>
<rect x="194.6" y="783.0" width="39.0" height="241.3" fill="#fff" stroke="#000" stroke-width="2.3"/>
<path d="M253.0 839.3 V830.6 M249.5 830.6 H256.5" fill="none" stroke="#333" stroke-width="1.9"/>
<rect x="233.6" y="839.3" width="38.0" height="185.0" fill="#5b9bdb" stroke="#000" stroke-width="2.3"/>
<path d="M309.4 763.2 V752.3 M305.9 752.3 H312.9" fill="none" stroke="#333" stroke-width="1.9"/>
<rect x="289.8" y="763.2" width="38.1" height="261.1" fill="#fff" stroke="#000" stroke-width="2.3"/>
<path d="M347.1 844.3 V832.0 M343.6 832.0 H350.6" fill="none" stroke="#333" stroke-width="1.9"/>
<rect x="327.9" y="844.3" width="38.4" height="180.0" fill="#0070c8" stroke="#000" stroke-width="2.3"/>
<path d="M403.8 735.3 V724.7 M400.3 724.7 H407.3" fill="none" stroke="#333" stroke-width="1.9"/>
<rect x="385.0" y="735.3" width="37.8" height="289.0" fill="#fff" stroke="#000" stroke-width="2.3"/>
<path d="M442.4 841.2 V829.6 M438.9 829.6 H445.9" fill="none" stroke="#333" stroke-width="1.9"/>
<rect x="422.8" y="841.2" width="38.7" height="183.1" fill="#2f5597" stroke="#000" stroke-width="2.3"/>
<path d="M90.7 685.3 V1024.3 H470.0" fill="none" stroke="#000" stroke-width="3.5" stroke-linejoin="miter"/>
<path d="M90.7 686.5 H94.5" fill="none" stroke="#000" stroke-width="2.6" stroke-linecap="round"/>
<line x1="90.7" y1="741.8" x2="94.9" y2="741.8" stroke="#000" stroke-width="2.9"/>
<line x1="90.7" y1="798.8" x2="95.9" y2="798.8" stroke="#000" stroke-width="2.9"/>
<line x1="90.7" y1="855.0" x2="94.9" y2="855.0" stroke="#000" stroke-width="2.9"/>
<line x1="90.7" y1="911.0" x2="95.9" y2="911.0" stroke="#000" stroke-width="2.9"/>
<line x1="90.7" y1="967.6" x2="94.9" y2="967.6" stroke="#000" stroke-width="2.9"/>
<text class="ss" x="83.0" y="697.6" font-size="26.5" text-anchor="end">1.2</text>
<text class="ss" x="83.0" y="810.0" font-size="26.5" text-anchor="end">1.0</text>
<text class="ss" x="83.0" y="924.3" font-size="26.5" text-anchor="end">0.8</text>
<text class="ss" x="83.0" y="1037.2" font-size="26.5" text-anchor="end">0.6</text>
<text class="ss" x="141.5" y="1052.3" font-size="26.5" text-anchor="middle">Pre</text>
<text class="ss" x="236.7" y="1052.3" font-size="26.5" text-anchor="middle">1</text>
<text class="ss" x="329.4" y="1052.3" font-size="26.5" text-anchor="middle">2</text>
<text class="ss" x="423.8" y="1052.3" font-size="26.5" text-anchor="middle">3</text>
<text class="ss" x="34.3" y="842.4" font-size="29.3" text-anchor="middle" transform="rotate(-90 34.3 842.4)">relative fold</text>
<rect x="104.9" y="651.2" width="27" height="26.6" fill="#fff" stroke="#000" stroke-width="1.7"/>
<rect x="104.9" y="690.3" width="27" height="26.3" fill="url(#lg)" stroke="#0a1a3c" stroke-width="1.4"/>
<text class="ss" x="139.8" y="672.8" font-size="26.7" text-anchor="start">vehicle</text>
<text class="ss" x="139.0" y="709.0" font-size="26.7" text-anchor="start">perampanel</text>
<text class="sf" transform="translate(239.2 758.7) scale(0.9 1.07)" font-size="34" text-anchor="middle">#</text>
<line x1="214.2" y1="763.4" x2="263.5" y2="763.4" stroke="#111" stroke-width="1.9"/>
<text class="sf" transform="translate(327.4 720.2) scale(0.9 1.07)" font-size="34" text-anchor="middle">#</text>
<line x1="302.2" y1="725.8" x2="352.2" y2="725.8" stroke="#111" stroke-width="1.9"/>
<text class="sf" transform="translate(427.9 694.2) scale(0.9 1.07)" font-size="34" text-anchor="middle">#</text>
<line x1="403.3" y1="699.4" x2="452.4" y2="699.4" stroke="#111" stroke-width="1.9"/>
<text class="sf" transform="translate(310.6 756.8) scale(0.93 1.13)" font-size="31" text-anchor="middle">*</text>
<text class="sf" transform="translate(254.3 837.1) scale(0.93 1.13)" font-size="31" text-anchor="middle">*</text>
<text class="sf" transform="translate(347.0 836.6) scale(0.93 1.13)" font-size="31" text-anchor="middle">*</text>
<text class="sf" transform="translate(395.8 731.7) scale(0.93 1.13)" font-size="31" text-anchor="middle">*</text>
<text class="sf" transform="translate(412.8 731.7) scale(0.93 1.13)" font-size="31" text-anchor="middle">*</text>
<text class="sf" transform="translate(443.0 834.4) scale(0.93 1.13)" font-size="31" text-anchor="middle">*</text>
<rect x="642.0" y="856.0" width="39.0" height="169.2" fill="#fff" stroke="#000" stroke-width="2.3"/>
<rect x="681.0" y="856.0" width="37.0" height="169.2" fill="#66d2ff" stroke="#000" stroke-width="2.3"/>
<path d="M756.7 826.8 V782.2 M753.2 782.2 H760.2" fill="none" stroke="#333" stroke-width="1.9"/>
<rect x="737.2" y="826.8" width="38.3" height="198.4" fill="#fff" stroke="#000" stroke-width="2.3"/>
<path d="M794.5 806.7 V796.0 M791.0 796.0 H798.0" fill="none" stroke="#333" stroke-width="1.9"/>
<rect x="775.5" y="806.7" width="38.1" height="218.5" fill="#5b9bdb" stroke="#000" stroke-width="2.3"/>
<path d="M851.2 889.3 V865.8 M847.7 865.8 H854.7" fill="none" stroke="#333" stroke-width="1.9"/>
<rect x="832.6" y="889.3" width="37.9" height="135.9" fill="#fff" stroke="#000" stroke-width="2.3"/>
<path d="M889.8 808.2 V790.7 M886.3 790.7 H893.3" fill="none" stroke="#333" stroke-width="1.9"/>
<rect x="870.5" y="808.2" width="38.5" height="217.0" fill="#0070c8" stroke="#000" stroke-width="2.3"/>
<path d="M946.6 925.0 V899.7 M943.1 899.7 H950.1" fill="none" stroke="#333" stroke-width="1.9"/>
<rect x="928.0" y="925.0" width="37.5" height="100.2" fill="#fff" stroke="#000" stroke-width="2.3"/>
<path d="M985.4 803.3 V775.2 M981.9 775.2 H988.9" fill="none" stroke="#333" stroke-width="1.9"/>
<rect x="965.5" y="803.3" width="38.8" height="221.9" fill="#2f5597" stroke="#000" stroke-width="2.3"/>
<path d="M633.3 686.2 V1025.2 H1012.8" fill="none" stroke="#000" stroke-width="3.5" stroke-linejoin="miter"/>
<path d="M633.3 687.4 H637.1" fill="none" stroke="#000" stroke-width="2.6" stroke-linecap="round"/>
<line x1="633.3" y1="770.8" x2="638.5" y2="770.8" stroke="#000" stroke-width="2.9"/>
<line x1="633.3" y1="855.0" x2="638.5" y2="855.0" stroke="#000" stroke-width="2.9"/>
<line x1="633.3" y1="940.6" x2="638.5" y2="940.6" stroke="#000" stroke-width="2.9"/>
<text class="ss" x="622.0" y="700.4" font-size="26.5" text-anchor="end">2.0</text>
<text class="ss" x="622.0" y="784.9" font-size="26.5" text-anchor="end">1.5</text>
<text class="ss" x="622.0" y="868.2" font-size="26.5" text-anchor="end">1.0</text>
<text class="ss" x="622.0" y="954.2" font-size="26.5" text-anchor="end">0.5</text>
<text class="ss" x="623.4" y="1037.2" font-size="26.5" text-anchor="end">0</text>
<text class="ss" x="679.7" y="1052.3" font-size="26.5" text-anchor="middle">Pre</text>
<text class="ss" x="776.7" y="1052.3" font-size="26.5" text-anchor="middle">1</text>
<text class="ss" x="870.2" y="1052.3" font-size="26.5" text-anchor="middle">2</text>
<text class="ss" x="966.0" y="1052.3" font-size="26.5" text-anchor="middle">3</text>
<text class="ss" x="571.6" y="842.4" font-size="29.3" text-anchor="middle" transform="rotate(-90 571.6 842.4)">relative fold</text>
<text class="sf" transform="translate(876.0 774.0) scale(0.9 1.07)" font-size="34" text-anchor="middle">#</text>
<line x1="851.4" y1="779.8" x2="900.7" y2="779.8" stroke="#111" stroke-width="1.9"/>
<text class="sf" transform="translate(966.9 755.9) scale(0.9 1.07)" font-size="34" text-anchor="middle">#</text>
<line x1="941.6" y1="761.7" x2="991.2" y2="761.7" stroke="#111" stroke-width="1.9"/>
<rect x="1193.0" y="800.8" width="38.8" height="224.3" fill="#fff" stroke="#000" stroke-width="2.3"/>
<rect x="1231.8" y="800.8" width="37.3" height="224.3" fill="#66d2ff" stroke="#000" stroke-width="2.3"/>
<path d="M1307.7 815.2 V795.3 M1304.2 795.3 H1311.2" fill="none" stroke="#333" stroke-width="1.9"/>
<rect x="1288.2" y="815.2" width="38.3" height="209.9" fill="#fff" stroke="#000" stroke-width="2.3"/>
<path d="M1345.9 804.2 V798.8 M1342.4 798.8 H1349.4" fill="none" stroke="#333" stroke-width="1.9"/>
<rect x="1326.5" y="804.2" width="39.3" height="220.9" fill="#5b9bdb" stroke="#000" stroke-width="2.3"/>
<path d="M1402.9 829.4 V801.6 M1399.4 801.6 H1406.4" fill="none" stroke="#333" stroke-width="1.9"/>
<rect x="1384.8" y="829.4" width="37.6" height="195.7" fill="#fff" stroke="#000" stroke-width="2.3"/>
<path d="M1441.7 771.5 V760.3 M1438.2 760.3 H1445.2" fill="none" stroke="#333" stroke-width="1.9"/>
<rect x="1422.4" y="771.5" width="38.4" height="253.6" fill="#0070c8" stroke="#000" stroke-width="2.3"/>
<path d="M1499.1 857.2 V824.0 M1495.6 824.0 H1502.6" fill="none" stroke="#333" stroke-width="1.9"/>
<rect x="1479.6" y="857.2" width="37.6" height="167.9" fill="#fff" stroke="#000" stroke-width="2.3"/>
<path d="M1536.7 779.0 V772.2 M1533.2 772.2 H1540.2" fill="none" stroke="#333" stroke-width="1.9"/>
<rect x="1517.2" y="779.0" width="39.1" height="246.1" fill="#2f5597" stroke="#000" stroke-width="2.3"/>
<path d="M1184.0 687.4 V1025.1 H1566.0" fill="none" stroke="#000" stroke-width="3.5" stroke-linejoin="miter"/>
<path d="M1184.0 688.6 H1187.8" fill="none" stroke="#000" stroke-width="2.6" stroke-linecap="round"/>
<line x1="1184.0" y1="800.0" x2="1189.2" y2="800.0" stroke="#000" stroke-width="2.9"/>
<line x1="1184.0" y1="912.7" x2="1189.2" y2="912.7" stroke="#000" stroke-width="2.9"/>
<text class="ss" x="1175.5" y="695.5" font-size="26.5" text-anchor="end">1.5</text>
<text class="ss" x="1175.5" y="809.6" font-size="26.5" text-anchor="end">1.0</text>
<text class="ss" x="1175.5" y="923.2" font-size="26.5" text-anchor="end">0.5</text>
<text class="ss" x="1176.9" y="1037.2" font-size="26.5" text-anchor="end">0</text>
<text class="ss" x="1234.0" y="1052.3" font-size="26.5" text-anchor="middle">Pre</text>
<text class="ss" x="1329.7" y="1052.3" font-size="26.5" text-anchor="middle">1</text>
<text class="ss" x="1424.4" y="1052.3" font-size="26.5" text-anchor="middle">2</text>
<text class="ss" x="1519.0" y="1052.3" font-size="26.5" text-anchor="middle">3</text>
<text class="ss" x="1121.6" y="842.4" font-size="29.3" text-anchor="middle" transform="rotate(-90 1121.6 842.4)">relative fold</text>
<text class="sf" transform="translate(1424.8 720.5) scale(0.9 1.07)" font-size="34" text-anchor="middle">#</text>
<line x1="1400.2" y1="727.2" x2="1449.7" y2="727.2" stroke="#111" stroke-width="1.9"/>
<text class="sf" transform="translate(1519.2 750.8) scale(0.9 1.07)" font-size="34" text-anchor="middle">#</text>
<line x1="1494.1" y1="757.7" x2="1544.2" y2="757.7" stroke="#111" stroke-width="1.9"/>
<text class="sf" transform="translate(1442.2 763.0) scale(0.93 1.13)" font-size="31" text-anchor="middle">*</text>
</svg>
</body>
</html>
